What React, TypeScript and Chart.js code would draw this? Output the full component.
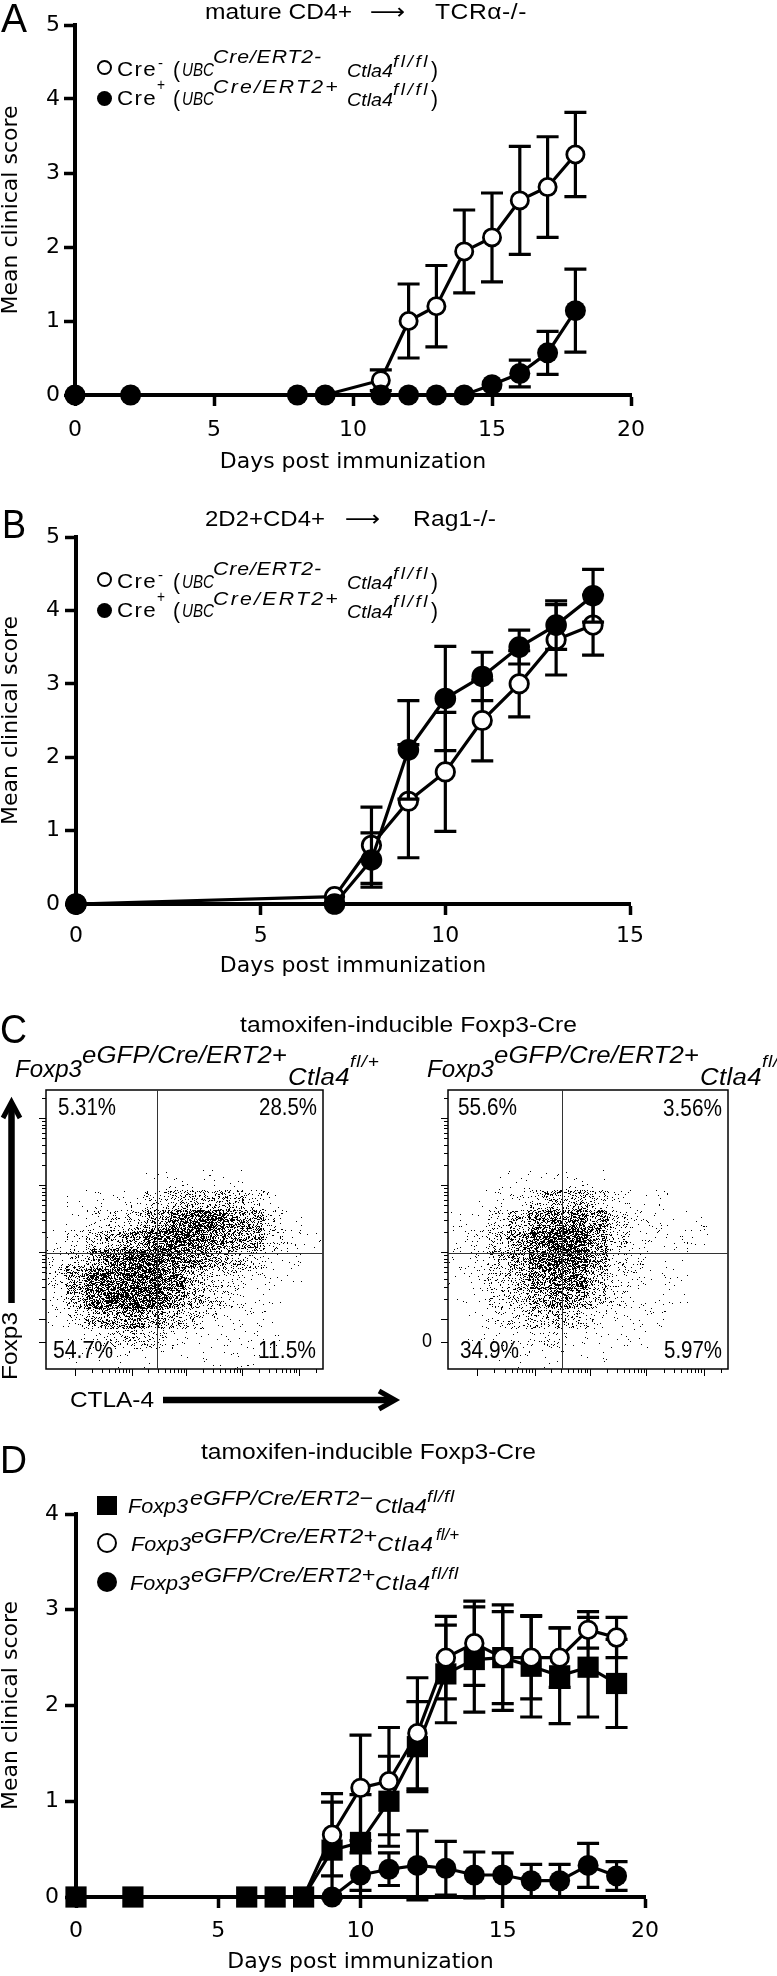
import React, { useEffect, useRef } from 'react';
import { Chart, registerables } from 'chart.js';

Chart.register(...registerables);

const AX_FONT = "'DejaVu Sans', sans-serif";
const TXT_FONT = "'Liberation Sans', Arial, sans-serif";
const ARROW_FONT = "'DejaVu Sans', sans-serif";

// ---------- Panel A: mature CD4+ -> TCRα-/- ----------
const daysA = [0, 2, 8, 9, 11, 12, 13, 14, 15, 16, 17, 18];
const creNegA = [0, 0, 0, 0, 0.2, 1.0, 1.2, 1.94, 2.13, 2.63, 2.81, 3.25];
const creNegErrA = [0, 0, 0, 0, 0.14, 0.5, 0.55, 0.56, 0.6, 0.73, 0.68, 0.57];
const crePosA = [0, 0, 0, 0, 0, 0, 0, 0, 0.14, 0.29, 0.57, 1.14];
const crePosErrA = [0, 0, 0, 0, 0, 0, 0, 0, 0, 0.18, 0.29, 0.56];

// ---------- Panel B: 2D2+CD4+ -> Rag1-/- ----------
const daysB = [0, 7, 8, 9, 10, 11, 12, 13, 14];
const creNegB = [0, 0.1, 0.8, 1.4, 1.8, 2.5, 3.0, 3.6, 3.8];
const creNegErrB = [0, 0, 0.52, 0.77, 0.81, 0.55, 0.45, 0.48, 0.41];
const crePosB = [0, 0, 0.6, 2.1, 2.8, 3.1, 3.5, 3.8, 4.2];
const crePosErrB = [0, 0, 0.37, 0.67, 0.71, 0.33, 0.23, 0.33, 0.36];

// ---------- Panel D: tamoxifen-inducible Foxp3-Cre ----------
const daysD = [0, 2, 6, 7, 8, 9, 10, 11, 12, 13, 14, 15, 16, 17, 18, 19];
const creNegFlFlD = [0, 0, 0, 0, 0, 0.49, 0.57, 1.0, 1.57, 2.33, 2.48, 2.5, 2.41, 2.31, 2.4, 2.23];
const creNegFlFlErrD = [0, 0, 0, 0, 0, 0.5, 0.5, 0.47, 0.47, 0.51, 0.55, 0.55, 0.53, 0.5, 0.52, 0.46];
const crePosFlPlusD = [0, 0, 0, 0, 0, 0.65, 1.14, 1.21, 1.71, 2.5, 2.65, 2.5, 2.5, 2.5, 2.79, 2.71];
const crePosFlPlusErrD = [0, 0, 0, 0, 0, 0.43, 0.55, 0.56, 0.58, 0.43, 0.44, 0.48, 0.43, 0.31, 0.19, 0.21];
const crePosFlFlD = [0, 0, 0, 0, 0, 0, 0.23, 0.29, 0.33, 0.3, 0.23, 0.23, 0.17, 0.17, 0.33, 0.22];
const crePosFlFlErrD = [0, 0, 0, 0, 0, 0, 0.23, 0.17, 0.36, 0.28, 0.24, 0.23, 0.17, 0.17, 0.23, 0.15];
const firstShownDayD = 9;

// ---------- Panel C: flow cytometry density (rows top -> bottom, 0-9) ----------
const densityFlPlus = [
  '00000000000000',
  '00000000000000',
  '00000000000000',
  '00000000000000',
  '00000111110000',
  '01112345543100',
  '01234689976310',
  '12456899876321',
  '24689987654210',
  '36999985432110',
  '25899975321100',
  '13567654211100',
  '01234321111100',
  '01111111111000',
];
const densityFlFl = [
  '00000000000000',
  '00000000000000',
  '00000000000000',
  '00000000000000',
  '00111111000000',
  '01124554211000',
  '11357887421110',
  '12468997421110',
  '12468996321100',
  '12457885321100',
  '11346764211100',
  '01234542111000',
  '01112211110000',
  '00111111000000',
];
const gateFlPlus = [5.61, 5.82];
const gateFlFl = [5.7, 5.82];
const quadFlPlus = ['5.31%', '28.5%', '54.7%', '11.5%'];
const quadFlFl = ['55.6%', '3.56%', '34.9%', '5.97%'];
const facsXMajor = [1.46, 4.33, 7.1, 9.92, 12.79];
const facsYMajor = [1.35, 2.51, 5.87, 9.23, 12.59];
const DOT_PROB = [0, 0.015, 0.045, 0.09, 0.15, 0.23, 0.32, 0.42, 0.53, 0.65];

// ---------- helpers ----------
let mctx: CanvasRenderingContext2D | null = null;
function textWidth(text: string, font: string) {
  if (!mctx) mctx = document.createElement('canvas').getContext('2d');
  mctx!.font = font;
  return mctx!.measureText(text).width;
}

function Txt({ x, b, size, w, italic = false, family = TXT_FONT, text, align = 'left' }: any) {
  const fontStr = `${italic ? 'italic ' : ''}${size}px ${family}`;
  const nat = textWidth(text, fontStr) || 1;
  let sx = w ? w / nat : 1;
  let ls = 0;
  if (sx > 1.12) {
    sx = 1.12;
    ls = (w / sx - nat) / text.length;
  }
  const width = w ?? nat;
  const left = align === 'right' ? x - width : x;
  return (
    <div
      style={{
        position: 'absolute',
        left,
        top: b - 0.846 * size,
        fontFamily: family,
        fontSize: size,
        fontStyle: italic ? 'italic' : 'normal',
        lineHeight: `${size}px`,
        letterSpacing: ls ? `${ls}px` : undefined,
        whiteSpace: 'pre',
        color: '#000',
        transform: `scaleX(${sx})`,
        transformOrigin: '0 0',
      }}
    >
      {text}
    </div>
  );
}

function VTxt({ cx, cy, size, w, text, family = TXT_FONT }: any) {
  const nat = textWidth(text, `${size}px ${family}`) || 1;
  const sx = w ? w / nat : 1;
  return (
    <div
      style={{
        position: 'absolute',
        left: cx - nat / 2,
        top: cy - size / 2,
        width: nat,
        fontFamily: family,
        fontSize: size,
        lineHeight: `${size}px`,
        whiteSpace: 'pre',
        color: '#000',
        transform: `rotate(-90deg) scaleX(${sx})`,
        transformOrigin: '50% 50%',
      }}
    >
      {text}
    </div>
  );
}

function Mark({ cx, cy, w, h, shape = 'circle', open = false, bw = 2.5 }: any) {
  const hh = h ?? w;
  return (
    <div
      style={{
        position: 'absolute',
        left: cx - w / 2,
        top: cy - hh / 2,
        width: w,
        height: hh,
        boxSizing: 'border-box',
        borderRadius: shape === 'circle' ? '50%' : 0,
        background: open ? '#fff' : '#000',
        border: open ? `${bw}px solid #000` : 'none',
      }}
    />
  );
}

function ChartCanvas({ left, top, width, height, make }: any) {
  const ref = useRef<HTMLCanvasElement>(null);
  useEffect(() => {
    const chart = new Chart(ref.current as HTMLCanvasElement, make());
    return () => chart.destroy();
  }, []);
  return (
    <canvas
      ref={ref}
      width={width}
      height={height}
      style={{ position: 'absolute', left, top, width, height }}
    />
  );
}

// error bars drawn right before each dataset so later datasets cover them
const errorBarPlugin = {
  id: 'errorBars',
  beforeDatasetDraw(chart: any, args: any) {
    const ds = chart.data.datasets[args.index];
    if (!ds.errors) return;
    const ys = chart.scales.y;
    const ctx = chart.ctx;
    ctx.save();
    ctx.strokeStyle = '#000';
    ctx.lineWidth = 3.2;
    ctx.beginPath();
    args.meta.data.forEach((pt: any, i: number) => {
      const e = ds.errors[i];
      if (!e) return;
      const v = ds.data[i].y;
      const x = pt.x;
      const yT = ys.getPixelForValue(v + e);
      const yB = ys.getPixelForValue(v - e);
      ctx.moveTo(x, yT);
      ctx.lineTo(x, yB);
      ctx.moveTo(x - 11, yT);
      ctx.lineTo(x + 11, yT);
      ctx.moveTo(x - 11, yB);
      ctx.lineTo(x + 11, yB);
    });
    ctx.stroke();
    ctx.restore();
  },
};

function series(days: number[], vals: number[], errs: number[], style: any) {
  return {
    data: days.map((d, i) => ({ x: d, y: vals[i] })),
    errors: errs,
    borderColor: '#000',
    borderWidth: 3.2,
    fill: false,
    tension: 0,
    clip: false,
    pointHoverRadius: 0,
    ...style,
  };
}
const openPt = (r: number) => ({
  pointStyle: 'circle',
  pointRadius: r,
  pointBorderWidth: 2.8,
  pointBackgroundColor: '#fff',
  pointBorderColor: '#000',
});
const filledPt = (r: number) => ({
  pointStyle: 'circle',
  pointRadius: r,
  pointBorderWidth: 0,
  pointBackgroundColor: '#000',
  pointBorderColor: '#000',
});

function lineConfig(p: any) {
  const tickFont = { family: AX_FONT, size: 22, lineHeight: 1 };
  return {
    type: 'line',
    data: { datasets: p.datasets },
    options: {
      responsive: false,
      animation: false,
      devicePixelRatio: 1,
      events: [],
      layout: { autoPadding: false, padding: { left: 0, top: p.padTop, right: p.padRight, bottom: 0 } },
      plugins: { legend: { display: false }, tooltip: { enabled: false } },
      scales: {
        x: {
          type: 'linear',
          min: 0,
          max: p.xMax,
          afterFit: (s: any) => {
            s.height = p.xH;
          },
          ticks: { stepSize: 5, autoSkip: false, maxRotation: 0, color: '#000', padding: p.xPad, font: tickFont },
          grid: { display: true, drawOnChartArea: false, drawTicks: true, tickLength: 11, tickWidth: 3.5, tickColor: '#000' },
          border: { display: true, color: '#000', width: 4 },
          title: { display: true, text: 'Days post immunization', color: '#000', font: tickFont, padding: 0 },
        },
        y: {
          type: 'linear',
          min: 0,
          max: p.yMax,
          afterFit: (s: any) => {
            s.width = p.yW;
          },
          ticks: { stepSize: 1, color: '#000', padding: p.yPad, font: tickFont },
          grid: { display: true, drawOnChartArea: false, drawTicks: true, tickLength: 11, tickWidth: 3.5, tickColor: '#000' },
          border: { display: true, color: '#000', width: 4 },
          title: { display: true, text: 'Mean clinical score', color: '#000', font: tickFont, padding: 0 },
        },
      },
    },
    plugins: [errorBarPlugin],
  };
}

function dither(x: number, y: number) {
  let h = Math.imul(x, 374761393) ^ Math.imul(y, 668265263);
  h = Math.imul(h ^ (h >>> 13), 1274126177);
  h ^= h >>> 16;
  return (h >>> 0) / 4294967296;
}

function minorTicks(majors: number[], max: number, skipFirst: boolean) {
  const out: number[] = [];
  for (let m = skipFirst ? 1 : 0; m < majors.length; m++) {
    const next = majors[m + 1] ?? majors[m] + (majors[m] - majors[m - 1]);
    const span = next - majors[m];
    for (let k = 2; k <= 9; k++) {
      const v = majors[m] + Math.log10(k) * span;
      if (v < max) out.push(v);
    }
  }
  return out;
}

function facsPlugin(gate: number[]) {
  return {
    id: 'facsDots',
    beforeDatasetsDraw(chart: any) {
      const { ctx, chartArea: a } = chart;
      const xs = chart.scales.x;
      const ys = chart.scales.y;
      const meta = chart.getDatasetMeta(0);
      const pts = chart.data.datasets[0].data;
      const cw = Math.abs(xs.getPixelForValue(1) - xs.getPixelForValue(0));
      const ch = Math.abs(ys.getPixelForValue(0) - ys.getPixelForValue(1));
      const L = Math.floor(a.left);
      const T = Math.floor(a.top);
      const W = Math.ceil(a.right) - L;
      const H = Math.ceil(a.bottom) - T;
      const img = ctx.getImageData(L, T, W, H);
      meta.data.forEach((el: any, k: number) => {
        const d = pts[k].d;
        if (!d) return;
        const prob = DOT_PROB[d];
        const x0 = Math.round(el.x - cw / 2);
        const x1 = Math.round(el.x + cw / 2);
        const y0 = Math.round(el.y - ch / 2);
        const y1 = Math.round(el.y + ch / 2);
        for (let py = y0; py < y1; py++) {
          for (let px = x0; px < x1; px++) {
            if (px < L || px >= L + W || py < T || py >= T + H) continue;
            if (dither(px, py) < prob) {
              const i = ((py - T) * W + (px - L)) * 4;
              img.data[i] = 0;
              img.data[i + 1] = 0;
              img.data[i + 2] = 0;
              img.data[i + 3] = 255;
            }
          }
        }
      });
      ctx.putImageData(img, L, T);
    },
    afterDatasetsDraw(chart: any) {
      const { ctx, chartArea: a } = chart;
      const xs = chart.scales.x;
      const ys = chart.scales.y;
      ctx.save();
      ctx.strokeStyle = '#000';
      ctx.lineWidth = 1.5;
      ctx.strokeRect(a.left, a.top, a.width, a.height);
      ctx.lineWidth = 1;
      ctx.strokeStyle = '#333';
      const gx = Math.round(xs.getPixelForValue(gate[0])) + 0.5;
      const gy = Math.round(ys.getPixelForValue(gate[1])) + 0.5;
      ctx.beginPath();
      ctx.moveTo(gx, a.top);
      ctx.lineTo(gx, a.bottom);
      ctx.moveTo(a.left, gy);
      ctx.lineTo(a.right, gy);
      ctx.stroke();
      ctx.strokeStyle = '#000';
      ctx.beginPath();
      const tx = (v: number, len: number) => {
        const px = Math.round(xs.getPixelForValue(v)) + 0.5;
        ctx.moveTo(px, a.bottom);
        ctx.lineTo(px, a.bottom + len);
      };
      const ty = (v: number, len: number) => {
        const py = Math.round(ys.getPixelForValue(v)) + 0.5;
        ctx.moveTo(a.left, py);
        ctx.lineTo(a.left - len, py);
      };
      facsXMajor.forEach((v) => tx(v, 7));
      minorTicks(facsXMajor, 14, false).forEach((v) => tx(v, 4));
      facsYMajor.forEach((v) => ty(v, 7));
      minorTicks(facsYMajor, 14, true).forEach((v) => ty(v, 4));
      ctx.stroke();
      ctx.restore();
    },
  };
}

function facsConfig(grid: string[], gate: number[], padding: any) {
  const data: any[] = [];
  grid.forEach((row, j) =>
    row.split('').forEach((c, i) => data.push({ x: i + 0.5, y: grid.length - j - 0.5, d: Number(c) }))
  );
  return {
    type: 'scatter',
    data: { datasets: [{ data, pointRadius: 0, pointHoverRadius: 0 }] },
    options: {
      responsive: false,
      animation: false,
      devicePixelRatio: 1,
      events: [],
      layout: { autoPadding: false, padding },
      plugins: { legend: { display: false }, tooltip: { enabled: false } },
      scales: {
        x: { type: 'linear', min: 0, max: 14, display: false },
        y: { type: 'linear', min: 0, max: 14, display: false },
      },
    },
    plugins: [facsPlugin(gate)],
  };
}

const makeA = () =>
  lineConfig({
    datasets: [
      series(daysA, crePosA, crePosErrA, filledPt(10.5)),
      series(daysA, creNegA, creNegErrA, openPt(8.6)),
    ],
    xMax: 20,
    yMax: 5,
    yW: 75,
    xH: 78,
    xPad: 13,
    yPad: 4,
    padTop: 25,
    padRight: 146,
  });

const makeB = () =>
  lineConfig({
    datasets: [
      series(daysB, crePosB, crePosErrB, filledPt(10.8)),
      series(daysB, creNegB, creNegErrB, openPt(9.2)),
    ],
    xMax: 15,
    yMax: 5,
    yW: 76,
    xH: 73,
    xPad: 10,
    yPad: 5,
    padTop: 57,
    padRight: 147,
  });

const makeD = () =>
  lineConfig({
    datasets: [
      series(daysD, crePosFlFlD, crePosFlFlErrD, {
        ...filledPt(10.5),
        pointRadius: daysD.map((d) => (d < firstShownDayD ? 0 : 10.5)),
      }),
      series(daysD, crePosFlPlusD, crePosFlPlusErrD, {
        ...openPt(8.8),
        pointRadius: daysD.map((d) => (d < firstShownDayD ? 0 : 8.8)),
      }),
      series(daysD, creNegFlFlD, creNegFlFlErrD, {
        pointStyle: 'rect',
        pointRadius: 15,
        pointBorderWidth: 0,
        pointBackgroundColor: '#000',
        pointBorderColor: '#000',
      }),
    ],
    xMax: 20,
    yMax: 4,
    yW: 76,
    xH: 76,
    xPad: 12,
    yPad: 6,
    padTop: 44,
    padRight: 132,
  });

const makeCLeft = () => facsConfig(densityFlPlus, gateFlPlus, { left: 46, top: 5, right: 17, bottom: 11 });
const makeCRight = () => facsConfig(densityFlFl, gateFlFl, { left: 48, top: 5, right: 49, bottom: 11 });

function UbcLegend({ dy }: { dy: number }) {
  return (
    <>
      <Mark cx={104} cy={67 + dy} w={15} open bw={2.5} />
      <Mark cx={104} cy={98 + dy} w={15} />
      <Txt x={117} b={76 + dy} size={20} w={40} text="Cre" />
      <Txt x={158} b={68 + dy} size={14} w={5} text="-" />
      <Txt x={173} b={78 + dy} size={22} w={7} text="(" />
      <Txt x={182} b={76 + dy} size={19} w={32} italic text="UBC" />
      <Txt x={213} b={63 + dy} size={19} w={109} italic text="Cre/ERT2-" />
      <Txt x={347} b={77 + dy} size={19} w={46} italic text="Ctla4" />
      <Txt x={393} b={67 + dy} size={17} w={37} italic text="fl/fl" />
      <Txt x={431} b={78 + dy} size={22} w={7} text=")" />

      <Txt x={117} b={105 + dy} size={20} w={40} text="Cre" />
      <Txt x={157} b={91 + dy} size={16} w={8} text="+" />
      <Txt x={173} b={107 + dy} size={22} w={7} text="(" />
      <Txt x={182} b={105 + dy} size={19} w={32} italic text="UBC" />
      <Txt x={213} b={93 + dy} size={19} w={127} italic text="Cre/ERT2+" />
      <Txt x={347} b={106 + dy} size={19} w={46} italic text="Ctla4" />
      <Txt x={393} b={95 + dy} size={17} w={37} italic text="fl/fl" />
      <Txt x={431} b={107 + dy} size={22} w={7} text=")" />
    </>
  );
}

function Genotype({ x0, tail, tailW }: any) {
  return (
    <>
      <Txt x={x0} b={1077} size={23} w={67} italic text="Foxp3" />
      <Txt x={x0 + 67} b={1063} size={23} w={205} italic text="eGFP/Cre/ERT2+" />
      <Txt x={x0 + 273} b={1085} size={23} w={62} italic text="Ctla4" />
      <Txt x={x0 + 335} b={1067} size={17} w={tailW} italic text={tail} />
    </>
  );
}

export default function App() {
  return (
    <div
      style={{
        position: 'absolute',
        left: 0,
        top: 0,
        width: 777,
        height: 1976,
        background: '#fff',
        overflow: 'hidden',
      }}
    >
      <ChartCanvas left={0} top={0} width={777} height={473} make={makeA} />
      <ChartCanvas left={0} top={480} width={777} height={497} make={makeB} />
      <ChartCanvas left={0} top={1085} width={340} height={295} make={makeCLeft} />
      <ChartCanvas left={400} top={1085} width={377} height={295} make={makeCRight} />
      <ChartCanvas left={0} top={1470} width={777} height={503} make={makeD} />

      <svg width={777} height={1976} style={{ position: 'absolute', left: 0, top: 0 }}>
        <line x1={11.5} y1={1303} x2={11.5} y2={1104} stroke="#000" strokeWidth={6.5} />
        <polyline points="3,1118 11.5,1102 20,1118" fill="none" stroke="#000" strokeWidth={5} />
        <line x1={163} y1={1400} x2={393} y2={1400} stroke="#000" strokeWidth={6.5} />
        <polyline points="379,1391 395,1400 379,1409" fill="none" stroke="#000" strokeWidth={5} />
      </svg>

      {/* Panel letters */}
      <Txt x={1} b={32} size={40} w={26} text="A" />
      <Txt x={2} b={538} size={40} w={24} text="B" />
      <Txt x={0} b={1043} size={40} w={27} text="C" />
      <Txt x={0} b={1473} size={38} w={27} text="D" />

      {/* Panel A */}
      <Txt x={205} b={19.5} size={22} w={147} text="mature CD4+" />
      <Txt x={370} b={19.5} size={22} w={52} family={ARROW_FONT} text="⟶" />
      <Txt x={435} b={19.5} size={22} w={92} text="TCRα-/-" />
      <UbcLegend dy={0} />

      {/* Panel B */}
      <Txt x={205} b={527} size={22} w={120} text="2D2+CD4+" />
      <Txt x={345} b={527} size={22} w={53} family={ARROW_FONT} text="⟶" />
      <Txt x={413} b={527} size={22} w={83} text="Rag1-/-" />
      <UbcLegend dy={512} />

      {/* Panel C */}
      <Txt x={240} b={1033} size={22} w={337} text="tamoxifen-inducible Foxp3-Cre" />
      <Genotype x0={15} tail="fl/+" tailW={30} />
      <Genotype x0={427} tail="fl/fl" tailW={28} />
      <Txt x={58} b={1115} size={23} w={58} text={quadFlPlus[0]} />
      <Txt x={317} b={1115} size={23} w={58} text={quadFlPlus[1]} align="right" />
      <Txt x={53} b={1358} size={23} w={60} text={quadFlPlus[2]} />
      <Txt x={316} b={1358} size={23} w={58} text={quadFlPlus[3]} align="right" />
      <Txt x={458} b={1115} size={23} w={59} text={quadFlFl[0]} />
      <Txt x={722} b={1116} size={23} w={59} text={quadFlFl[1]} align="right" />
      <Txt x={460} b={1358} size={23} w={59} text={quadFlFl[2]} />
      <Txt x={722} b={1358} size={23} w={58} text={quadFlFl[3]} align="right" />
      <Txt x={422} b={1347} size={20} w={10} text="0" />
      <Txt x={70} b={1408} size={22} w={84} text="CTLA-4" />
      <VTxt cx={10} cy={1346} size={22} w={68} text="Foxp3" />

      {/* Panel D */}
      <Txt x={201} b={1460} size={22} w={335} text="tamoxifen-inducible Foxp3-Cre" />
      <Mark cx={107} cy={1505} w={20} h={19} shape="square" />
      <Txt x={128} b={1513} size={21} w={60} italic text="Foxp3" />
      <Txt x={190} b={1505} size={21} w={183} italic text="eGFP/Cre/ERT2−" />
      <Txt x={375} b={1513} size={20} w={52} italic text="Ctla4" />
      <Txt x={427} b={1502} size={17} w={28} italic text="fl/fl" />

      <Mark cx={107} cy={1543} w={20} open bw={2.8} />
      <Txt x={131} b={1551} size={21} w={60} italic text="Foxp3" />
      <Txt x={191} b={1543} size={21} w={186} italic text="eGFP/Cre/ERT2+" />
      <Txt x={377} b={1551} size={20} w={57} italic text="Ctla4" />
      <Txt x={436} b={1540} size={17} w={23} italic text="fl/+" />

      <Mark cx={107} cy={1582} w={20} />
      <Txt x={130} b={1590} size={21} w={60} italic text="Foxp3" />
      <Txt x={191} b={1582} size={21} w={184} italic text="eGFP/Cre/ERT2+" />
      <Txt x={375} b={1590} size={20} w={56} italic text="Ctla4" />
      <Txt x={431} b={1579} size={17} w={28} italic text="fl/fl" />
    </div>
  );
}
